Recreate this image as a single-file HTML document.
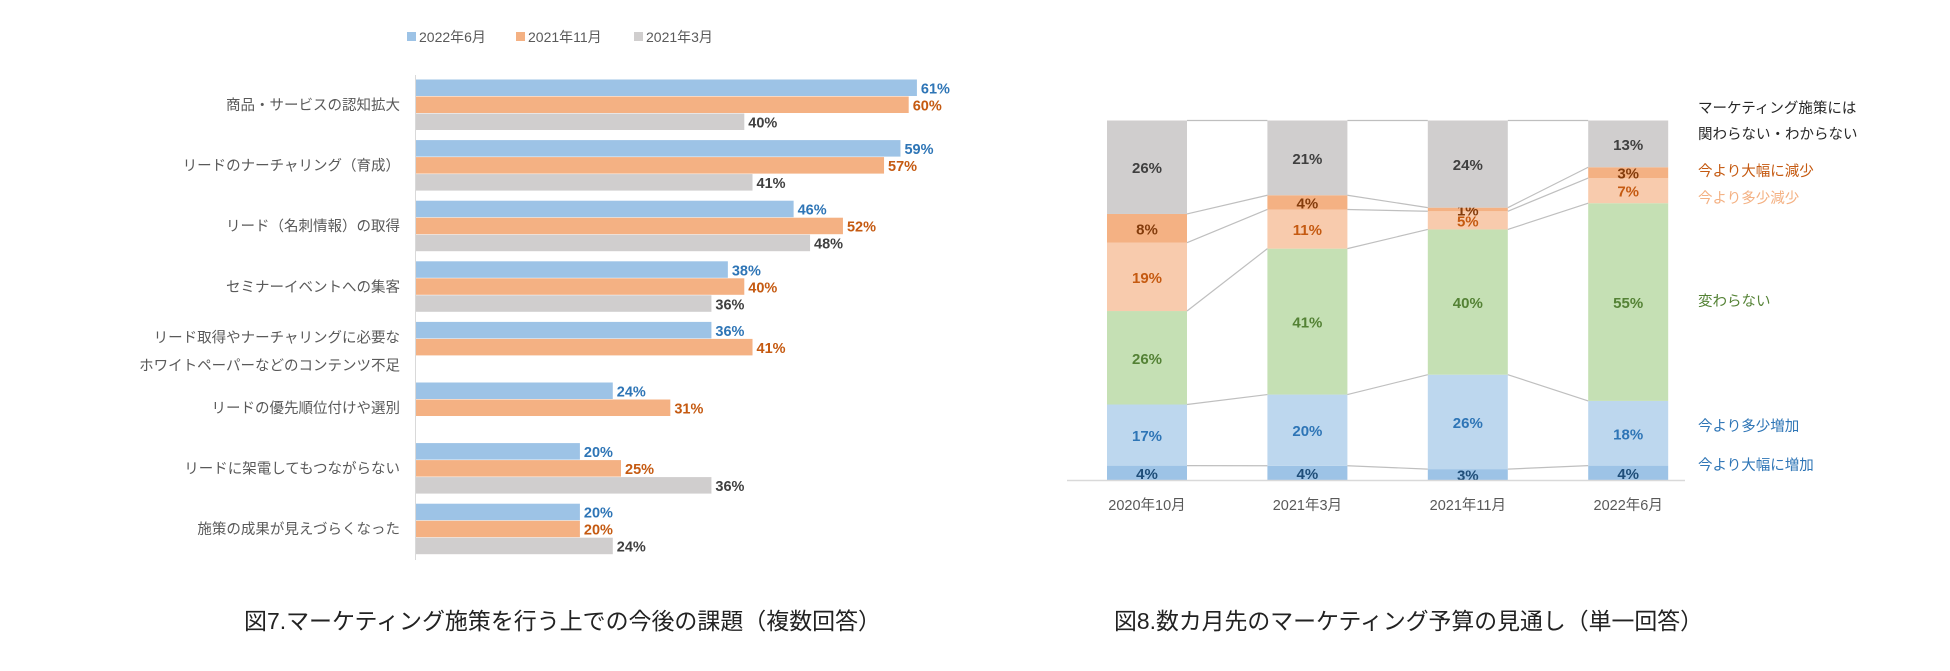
<!DOCTYPE html>
<html><head><meta charset="utf-8"><style>
html,body{margin:0;padding:0;background:#fff;}
svg{display:block;font-family:"Liberation Sans","Noto Sans CJK JP",sans-serif;}
</style></head><body>
<svg id="s" width="1950" height="671" viewBox="0 0 1950 671" xmlns="http://www.w3.org/2000/svg">
<g id="left"></g>
<g id="right"></g>
<text x="244" y="629" font-size="23" fill="#222" textLength="637" lengthAdjust="spacingAndGlyphs">図7.マーケティング施策を行う上での今後の課題（複数回答）</text>
<text x="1114" y="629" font-size="23" fill="#222" textLength="589" lengthAdjust="spacingAndGlyphs">図8.数カ月先のマーケティング予算の見通し（単一回答）</text>
</svg>
<script>
const categories=[["商品・サービスの認知拡大"],["リードのナーチャリング（育成）"],["リード（名刺情報）の取得"],["セミナーイベントへの集客"],["リード取得やナーチャリングに必要な","ホワイトペーパーなどのコンテンツ不足"],["リードの優先順位付けや選別"],["リードに架電してもつながらない"],["施策の成果が見えづらくなった"]];
const seriesNames=["2022年6月","2021年11月","2021年3月"];
const jun2022=[61,59,46,38,36,24,20,20];
const nov2021=[60,57,52,40,41,31,25,20];
const mar2021=[40,41,48,36,null,null,36,24];

const periods=["2020年10月","2021年3月","2021年11月","2022年6月"];
const segNames=["今より大幅に増加","今より多少増加","変わらない","今より多少減少","今より大幅に減少","マーケティング施策には関わらない・わからない"];
const bigUp=[4,4,3,4];
const smallUp=[17,20,26,18];
const noChange=[26,41,40,55];
const smallDown=[19,11,5,7];
const bigDown=[8,4,1,3];
const unknown=[26,21,24,13];

const NS="http://www.w3.org/2000/svg";
function mk(p,tag,at,txt){const e=document.createElementNS(NS,tag);for(const k in at)e.setAttribute(k,at[k]);if(txt!=null)e.textContent=txt;p.appendChild(e);return e;}

// LEFT chart
const L=document.getElementById('left');
const x0=415.5, pxPer=8.22, top0=79.5, groupH=60.6, barH=17;
const xs=v=>x0+v*pxPer;
const fills=["#9DC3E6","#F4B183","#D0CECE"], lblC=["#2E75B6","#C55A11","#404040"];
const legX=[407,516,634];
seriesNames.forEach((n,i)=>{
  const r=mk(L,'rect',{x:legX[i],y:32,width:9,height:9,fill:fills[i]});
  
  
  const t=mk(L,'text',{x:legX[i]+12,y:42,'font-size':14,fill:'#595959'},n);
  
  
});
const series=[jun2022,nov2021,mar2021];
categories.forEach((c,g)=>{
  const gy=top0+g*groupH;
  const cy=gy+barH*1.5;
  if(c.length===1){
    const t=mk(L,'text',{x:400,y:cy+5,'font-size':14.5,fill:'#595959','text-anchor':'end'},c[0]);
    
    
  }else{
    c.forEach((s,k)=>{const t=mk(L,'text',{x:400,y:cy-5+k*28,'font-size':14.5,fill:'#595959','text-anchor':'end'},s);
      
      });
  }
  series.forEach((arr,i)=>{
    const v=arr[g]; if(v==null) return;
    const y=gy+i*barH;
    const r=mk(L,'rect',{x:x0,y:y,width:xs(v)-x0,height:barH-0.5,fill:fills[i]});
    
    
    const t=mk(L,'text',{x:xs(v)+4,y:y+14,'font-size':14.5,'font-weight':'bold',fill:lblC[i]},v+'%');
    
    
  });
});
const ax=mk(L,'line',{x1:x0,y1:75,x2:x0,y2:560,stroke:'#D9D9D9','stroke-width':1});



// RIGHT chart
const R=document.getElementById('right');
const segs=[bigUp,smallUp,noChange,smallDown,bigDown,unknown];
const segFill=["#9DC3E6","#BDD7EE","#C5E0B4","#F8CBAD","#F4B183","#D0CECE"];
const segLbl=["#1F4E79","#2E75B6","#548235","#C55A11","#843C0C","#404040"];
const base=480, fullH=359.5, bw=80, cx0=1147, step=160.4;
const bx=i=>cx0+i*step-bw/2;
const tops=[];
periods.forEach((p,i)=>{
  let tot=0; segs.forEach(s=>tot+=s[i]);
  let cum=0; tops[i]=[];
  segs.forEach((s,k)=>{
    const h=s[i]/tot*fullH;
    const y=base-cum-h;
    const r=mk(R,'rect',{x:bx(i),y:y,width:bw,height:h,fill:segFill[k]});
    
    
    cum+=h; tops[i][k]=base-cum;
    const t=mk(R,'text',{x:bx(i)+bw/2,y:y+h/2+6,'font-size':15,'font-weight':'bold',fill:segLbl[k],'text-anchor':'middle'},s[i]+'%');
    
    
  });
  const t=mk(R,'text',{x:bx(i)+bw/2,y:510,'font-size':14.5,fill:'#595959','text-anchor':'middle'},p);
  
  
});
for(let i=0;i<periods.length-1;i++){
  for(let k=0;k<segs.length;k++){
    const l=mk(R,'line',{x1:bx(i)+bw,y1:tops[i][k],x2:bx(i+1),y2:tops[i+1][k],stroke:'#BFBFBF','stroke-width':1.2});
    
    
  }
}
const bl=mk(R,'line',{x1:1067,y1:base+0.5,x2:1685,y2:base+0.5,stroke:'#D9D9D9','stroke-width':1.5});


const legY=[[113,139],[176],[203],[306],[431],[470]];
const legTxt=[["マーケティング施策には","関わらない・わからない"],["今より大幅に減少"],["今より多少減少"],["変わらない"],["今より多少増加"],["今より大幅に増加"]];
const legCol=["#262626","#C55A11","#F4B183","#548235","#2E75B6","#2E75B6"];
legTxt.forEach((ls,j)=>{ls.forEach((s,k)=>{
  const t=mk(R,'text',{x:1698,y:legY[j][k],'font-size':14.5,fill:legCol[j]},s);
  
  
});});
</script>
</body></html>
